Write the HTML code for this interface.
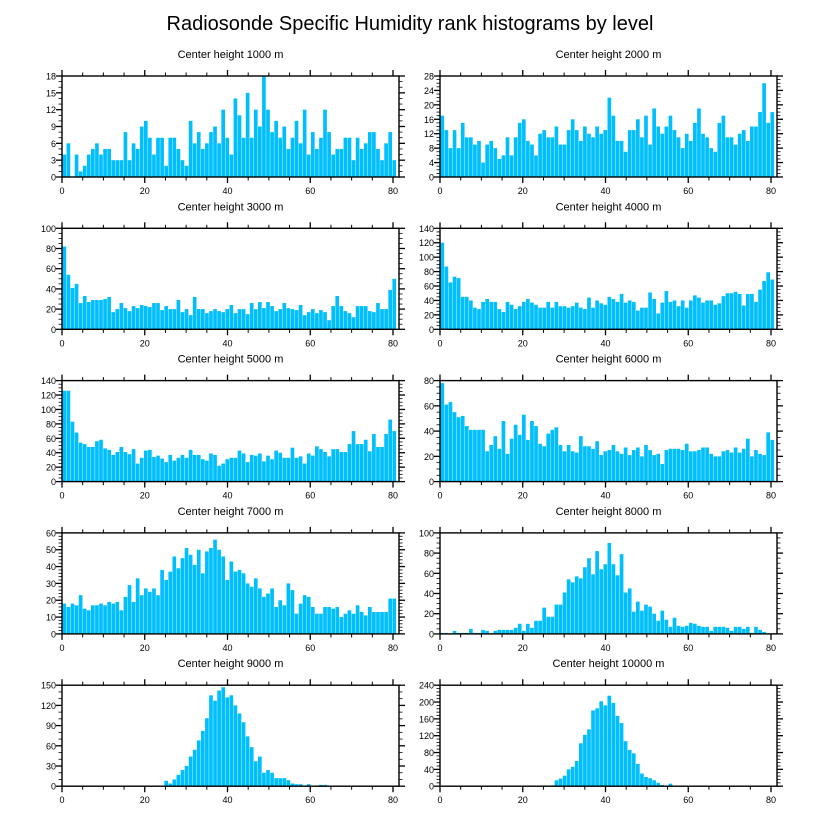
<!DOCTYPE html>
<html><head><meta charset="utf-8"><style>
body{margin:0;background:#fff;}
svg{display:block;font-family:"Liberation Sans",sans-serif;}
</style></head><body>
<svg id="chart" width="816" height="824">
<text x="410" y="30" text-anchor="middle" font-size="20">Radiosonde Specific Humidity rank histograms by level</text>
</svg>
<script>
const titles = ["Center height 1000 m","Center height 2000 m","Center height 3000 m","Center height 4000 m","Center height 5000 m","Center height 6000 m","Center height 7000 m","Center height 8000 m","Center height 9000 m","Center height 10000 m"];
const yMaxes = [18,28,100,140,140,80,60,100,150,240];
const ySteps = [3,4,20,20,20,20,10,20,30,40];
const xTicks = [0,20,40,60,80];
const h1000 = [4,6,0,4,1,2,4,5,6,4,5,5,3,3,3,8,3,6,5,9,10,7,4,7,7,2,7,7,5,3,2,10,6,8,5,6,8,9,6,12,7,4,14,11,7,15,7,12,9,18,12,8,10,7,9,5,7,10,6,12,4,8,5,7,12,8,4,5,5,7,7,3,7,5,6,8,8,5,3,6,8,3];
const h2000 = [17,13,8,13,8,15,11,11,9,10,4,9,10,8,5,6,11,6,11,15,16,10,9,6,12,13,11,11,14,9,9,13,16,13,10,14,12,11,14,12,13,22,17,10,10,7,13,13,16,11,17,9,19,14,12,14,17,13,11,8,12,10,15,19,12,11,8,7,15,17,11,11,9,12,13,10,14,14,18,26,15,18];
const h3000 = [82,54,41,45,26,33,27,29,29,29,30,32,17,20,26,21,18,23,21,24,23,22,26,26,19,23,20,20,29,17,20,14,32,20,20,16,18,20,18,17,20,24,16,20,20,15,26,20,27,21,27,23,18,20,26,21,20,19,24,14,17,20,16,19,17,9,23,33,23,18,16,12,23,23,23,18,17,26,20,20,39,50];
const h4000 = [120,87,65,73,71,45,45,40,30,28,38,42,38,38,28,24,38,34,28,32,38,42,37,34,30,30,38,30,38,32,32,30,32,37,30,28,44,30,40,36,34,45,42,38,49,37,40,38,26,30,30,51,42,22,37,53,38,40,32,40,30,40,47,44,37,40,40,34,36,46,50,50,52,49,33,49,49,38,55,67,79,69];
const h5000 = [126,126,83,68,54,52,48,48,56,58,46,44,37,41,48,41,38,45,25,33,43,44,34,36,32,27,37,29,33,37,33,44,37,37,31,29,39,37,22,25,31,33,33,43,39,27,37,36,39,28,36,31,43,40,33,33,47,33,35,25,39,36,49,45,41,35,45,45,41,41,52,70,52,52,58,42,66,48,48,66,86,70];
const h6000 = [78,61,63,55,51,52,44,41,41,41,41,24,29,36,26,48,22,34,45,37,53,33,48,44,30,28,38,41,43,29,24,29,24,23,36,28,28,26,32,21,24,25,29,24,22,27,21,25,27,20,29,25,21,22,14,25,26,26,26,25,30,24,24,25,27,27,22,20,20,24,25,23,27,23,26,34,20,25,22,21,39,33];
const h7000 = [18,16,18,17,23,15,14,17,17,18,17,19,18,19,14,22,29,19,33,23,27,25,27,23,38,32,37,46,39,45,51,47,41,50,36,49,51,56,50,46,32,43,37,38,36,30,28,33,27,22,24,27,16,20,17,30,26,12,18,23,22,16,12,12,16,16,15,16,10,12,14,12,17,13,11,16,13,13,13,13,21,21];
const h8000 = [1,1,0,3,1,1,1,5,1,1,4,3,0,3,4,4,4,4,6,10,3,10,6,13,13,26,17,17,29,29,41,54,51,57,55,66,75,59,82,64,69,90,69,58,79,41,45,22,32,23,29,27,20,13,23,14,7,16,8,7,8,11,10,8,7,7,3,7,7,7,6,3,7,7,5,7,1,7,4,2,0,0];
const h9000 = [0,0,0,0,0,0,0,0,0,0,0,0,0,0,0,0,0,1,1,0,0,0,1,1,1,8,4,10,17,24,30,44,54,68,82,101,135,127,142,147,132,135,120,108,95,74,58,37,44,20,24,20,12,12,12,9,4,3,3,1,3,1,1,2,2,0,0,1,1,0,1,1,0,0,0,1,0,0,0,0,0,0];
const h10000 = [0,0,0,0,0,0,0,0,0,0,0,0,0,0,0,0,0,0,0,0,0,0,1,0,0,2,0,2,14,18,25,40,46,60,102,122,135,180,185,202,192,215,198,167,150,107,86,78,53,30,22,19,14,8,3,1,6,1,0,0,1,0,1,1,0,0,0,0,1,0,1,0,0,0,0,1,0,0,1,0,0,0];
const series = [h1000,h2000,h3000,h4000,h5000,h6000,h7000,h8000,h9000,h10000];

const NS = "http://www.w3.org/2000/svg";
const svg = document.getElementById("chart");
function mk(tag, attrs, parent){const e=document.createElementNS(NS,tag);for(const k in attrs)e.setAttribute(k,attrs[k]);parent.appendChild(e);return e;}

const colX = [62,440];
const PW = 337, PH = 101, X0TOP = 76, ROWH = 152.3, XMAX = 81.45;

series.forEach((vals, p) => {
  const col = p % 2, row = Math.floor(p/2);
  const L = colX[col], T = X0TOP + row*ROWH, B = T + PH, R = L + PW;
  const ymax = yMaxes[p], ystep = ySteps[p];
  const xs = v => L + v*PW/XMAX;
  const bw = (PW-3)/vals.length;
  const ys = v => B - v*PH/ymax;
  const g = mk("g", {}, svg);
  
  
  const t = mk("text", {x:(L+R)/2, y:T-18, "text-anchor":"middle","font-size":"11"}, g);
  t.textContent = titles[p];
  
  
  vals.forEach((v,i)=>{
    if(v<=0) return;
    const y = ys(v);
    const r = mk("rect", {x:L+0.5+i*bw, y:y, width:bw-0.4, height:B-y, fill:"#00bfff"}, g);
    
    
  });
  const fr = mk("rect", {x:L, y:T, width:PW, height:PH, fill:"none", stroke:"#000","stroke-width":"1.4"}, g);
  
  
  for(let v=0; v<=80; v+=5){
    const x = xs(v), major = v%20===0, len = major?6:3.5;
    mk("line",{x1:x,x2:x,y1:T,y2:T-len,stroke:"#000","stroke-width":major?1.3:1},g);
    mk("line",{x1:x,x2:x,y1:B,y2:B+len,stroke:"#000","stroke-width":major?1.3:1},g);
  }
  xTicks.forEach(v=>{
    const tx = mk("text",{x:xs(v),y:B+17,"text-anchor":"middle","font-size":"9"},g);
    tx.textContent = v;
    
    
  });
  const minor = ystep/ ( (ystep%4===0 && ystep<=20) ? 4 : (ystep%3===0 ? 3 : 5) );
  for(let v=0; v<=ymax+1e-9; v+=minor){
    const y = ys(v), major = Math.abs(v/ystep - Math.round(v/ystep))<1e-6, len = major?6:3.5;
    mk("line",{x1:L,x2:L-len,y1:y,y2:y,stroke:"#000","stroke-width":major?1.3:0.8},g);
    mk("line",{x1:R,x2:R+len,y1:y,y2:y,stroke:"#000","stroke-width":major?1.3:0.8},g);
  }
  for(let v=0; v<=ymax; v+=ystep){
    const ty = mk("text",{x:L-6,y:ys(v)+3.5,"text-anchor":"end","font-size":"9"},g);
    ty.textContent = v;
    
    
  }
});
</script>
</body></html>
